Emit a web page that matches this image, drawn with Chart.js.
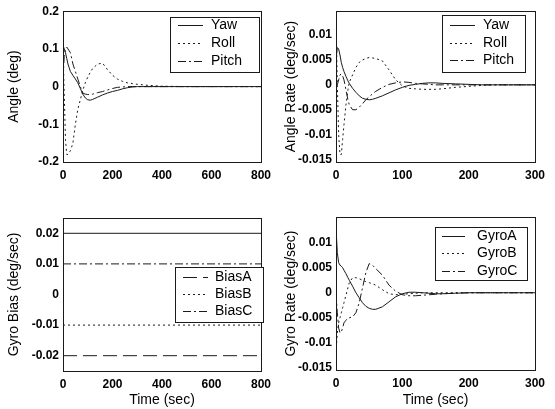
<!DOCTYPE html>
<html><head><meta charset="utf-8">
<script src="https://cdn.jsdelivr.net/npm/chart.js@4/dist/chart.umd.min.js"></script>
<style>
html,body{margin:0;padding:0;background:#fff;}
#wrap{position:relative;width:555px;height:409px;overflow:hidden;background:#fff;}
canvas{position:absolute;}
</style></head><body>
<div id="wrap">
<canvas id="c1" width="277" height="200" style="left:0;top:0"></canvas>
<canvas id="c2" width="278" height="200" style="left:277px;top:0"></canvas>
<canvas id="c3" width="277" height="209" style="left:0;top:200px"></canvas>
<canvas id="c4" width="278" height="209" style="left:277px;top:200px"></canvas>
</div>
<script>
// ---------- DATA ----------
const angleTime  = [0,5,10,15,20,25,30,40,50,60,70,80,90,100,110,120,140,160,180,200,220,240,260,280,300,350,400,500,600,700,800];
const angleYaw   = [0.11,0.1,0.09,0.075,0.06,0.05,0.04,0.03,0.02,0.01,-0.005,-0.02,-0.03,-0.035,-0.036,-0.034,-0.028,-0.022,-0.017,-0.013,-0.01,-0.006,-0.003,-0.001,0,0,0,0,0,0,0];
const angleRoll  = [0.1,-0.02,-0.14,-0.18,-0.18,-0.175,-0.17,-0.15,-0.1,-0.06,-0.035,-0.01,0.01,0.025,0.038,0.048,0.06,0.062,0.045,0.03,0.02,0.014,0.01,0.008,0.006,0.003,0.001,0,0,0,0];
const anglePitch = [0.02,0.08,0.1,0.105,0.1,0.095,0.09,0.06,0.04,0.02,0,-0.017,-0.02,-0.021,-0.021,-0.02,-0.016,-0.013,-0.009,-0.005,-0.002,-0.001,0,0,0,0,0,0,0,0,0];

const rateTime  = [0,2,4,6,8,10,12,15,18,20,25,30,35,40,45,50,55,60,70,80,90,100,110,120,130,140,150,160,180,200,220,240,260,280,300];
const rateYaw   = [0.005,0.0075,0.0072,0.006,0.0045,0.0035,0.0027,0.0017,0.0008,0.0003,-0.0007,-0.0015,-0.0022,-0.0027,-0.0029,-0.003,-0.0029,-0.0027,-0.0022,-0.0016,-0.001,-0.0005,-0.0001,0.0001,0.0003,0.0004,0.0004,0.0003,0.0002,0.0001,0,0,0,0,0];
const rateRoll  = [0.013,0,-0.01,-0.014,-0.014,-0.011,-0.008,-0.004,-0.001,0.0005,0.002,0.0035,0.0045,0.005,0.0053,0.0055,0.0054,0.0053,0.0048,0.003,0.001,-0.0002,-0.0007,-0.0008,-0.0009,-0.0009,-0.0009,-0.0008,-0.0005,-0.0003,-0.0001,0,0,0,0];
const ratePitch = [0,0,0.001,0.002,0.0022,0.0018,0.001,-0.001,-0.003,-0.004,-0.005,-0.005,-0.0045,-0.0038,-0.003,-0.0024,-0.0018,-0.0013,-0.0005,0.0001,0.0004,0.0006,0.0005,0.0003,0.0002,0.0001,0,0,0,0,0,0,0,0,0];

const biasTime = [0,800];
const biasA    = [-0.02,-0.02];
const biasB    = [-0.01,-0.01];
const biasC    = [0.01,0.01];
const biasRef  = [0.02,0.02];

const gyroTime = rateTime;
const gyroA = [0.013,0.008,0.006,0.0055,0.0053,0.005,0.0045,0.0038,0.003,0.0025,0.0013,0,-0.001,-0.002,-0.0027,-0.0031,-0.0033,-0.0033,-0.0028,-0.0018,-0.0008,-0.0002,0.0001,0.0001,0,-0.0001,-0.0002,-0.0002,-0.0001,0,0,0,0,0,0];
const gyroB = [-0.012,-0.008,-0.006,-0.005,-0.004,-0.003,-0.002,-0.0005,0.001,0.002,0.003,0.003,0.0028,0.0025,0.0022,0.002,0.0018,0.0015,0.0006,-0.0002,-0.0004,-0.0003,-0.0002,-0.0001,0,0,0,0,0,0,0,0,0,0,0];
const gyroC = [0,-0.004,-0.007,-0.008,-0.0078,-0.007,-0.006,-0.0055,-0.005,-0.005,-0.0048,-0.004,-0.002,0.001,0.004,0.0058,0.0055,0.0048,0.0035,0.0015,0.0003,-0.0004,-0.0006,-0.0006,-0.0005,-0.0004,-0.0003,-0.0002,-0.0001,0,0,0,0,0,0];

const angleTicks = [-0.2,-0.1,0,0.1,0.2];
const rateTicks  = [-0.015,-0.01,-0.005,0,0.005,0.01];
const biasTicks  = [-0.02,-0.01,0,0.01,0.02];
const longTicks  = [0,200,400,600,800];
const shortTicks = [0,100,200,300];

// ---------- STYLE / HELPERS ----------
const INK = '#1a1a1a';
const SOLID = [], DOT = [2,3], DASHDOT = [8,3,2,3], LONGDASH = [14,6];
const pts = (xs, ys) => xs.map((x,i)=>({x:x, y:ys[i]}));
const ds = (label, xs, ys, dash) => ({label, data: pts(xs, ys), borderColor: INK, borderWidth: 1, borderDash: dash, pointRadius: 0, tension: 0, fill: false});

const framePlugin = {
  id: 'frame',
  afterDatasetsDraw(chart){
    const a = chart.chartArea, ctx = chart.ctx;
    ctx.save(); ctx.setLineDash([]); ctx.strokeStyle = INK; ctx.lineWidth = 1;
    ctx.strokeRect(Math.round(a.left)+0.5, Math.round(a.top)+0.5, Math.round(a.right-a.left), Math.round(a.bottom-a.top));
    ctx.restore();
  }
};
const boxLegend = {
  id: 'boxLegend',
  afterDatasetsDraw(chart, args, o){
    if (!o || o.x === undefined) return;
    const ctx = chart.ctx; ctx.save();
    ctx.fillStyle = '#fff'; ctx.fillRect(o.x, o.y, o.w, o.h);
    ctx.setLineDash([]); ctx.strokeStyle = INK; ctx.lineWidth = 1;
    ctx.strokeRect(o.x+0.5, o.y+0.5, o.w, o.h);
    chart.data.datasets.filter(d=>d.label).forEach((d,i)=>{
      const yy = o.rows[i];
      ctx.setLineDash(d.borderDash||[]); ctx.strokeStyle = INK;
      ctx.beginPath(); ctx.moveTo(o.lx0, yy+0.5); ctx.lineTo(o.lx1, yy+0.5); ctx.stroke();
      ctx.setLineDash([]); ctx.fillStyle = '#000';
      ctx.font = '14px "Liberation Sans", Arial, sans-serif'; ctx.textBaseline = 'middle'; ctx.textAlign = 'left';
      ctx.fillText(d.label, o.tx, yy);
    });
    ctx.restore();
  }
};
Chart.register(framePlugin, boxLegend);

const tickFont = {family: '"Liberation Sans", Arial, sans-serif', size: 12, weight: 'bold'};
const titleFont = {family: '"Liberation Sans", Arial, sans-serif', size: 14};

function makeChart(id, datasets, cfg){
  return new Chart(document.getElementById(id), {
    type: 'line',
    data: {datasets},
    options: {
      responsive: false, animation: false, devicePixelRatio: 1,
      layout: {padding: {top: cfg.padTop, right: cfg.padRight, left: 0, bottom: 0}},
      plugins: {legend: {display: false}, tooltip: {enabled: false}, boxLegend: cfg.legend},
      scales: {
        x: {
          type: 'linear', min: cfg.xMin, max: cfg.xMax,
          afterBuildTicks: s => { s.ticks = cfg.xTicks.map(v=>({value:v})); },
          afterFit: s => { s.height = cfg.xH; },
          grid: {display: false, drawTicks: false},
          border: {display: false},
          ticks: {font: tickFont, color: '#000', padding: 6, maxRotation: 0, callback: v => String(v)},
          title: {display: !!cfg.xTitle, text: cfg.xTitle || '', font: titleFont, color: '#000', padding: {top: 2, bottom: 0}}
        },
        y: {
          type: 'linear', min: cfg.yMin, max: cfg.yMax,
          afterBuildTicks: s => { s.ticks = cfg.yTicks.map(v=>({value:v})); },
          afterFit: s => { s.width = cfg.yW; },
          grid: {display: false, drawTicks: false},
          border: {display: false},
          ticks: {font: tickFont, color: '#000', padding: 4, callback: v => String(v)},
          title: {display: true, text: cfg.yTitle, font: titleFont, color: '#000', padding: {top: 6, bottom: 0}}
        }
      }
    }
  });
}

makeChart('c1', [
  ds('Yaw', angleTime, angleYaw, SOLID),
  ds('Roll', angleTime, angleRoll, DOT),
  ds('Pitch', angleTime, anglePitch, DASHDOT)
], {padTop: 9, padRight: 16, xH: 38, yW: 63, xMin: 0, xMax: 800, xTicks: longTicks, yMin: -0.2, yMax: 0.2, yTicks: angleTicks,
    yTitle: 'Angle (deg)',
    legend: {x: 170, y: 17, w: 89, h: 55, rows: [25,43,61], lx0: 178, lx1: 203, tx: 211}});

makeChart('c2', [
  ds('Yaw', rateTime, rateYaw, SOLID),
  ds('Roll', rateTime, rateRoll, DOT),
  ds('Pitch', rateTime, ratePitch, DASHDOT)
], {padTop: 9, padRight: 20, xH: 38, yW: 59, xMin: 0, xMax: 300, xTicks: shortTicks, yMin: -0.0155, yMax: 0.0148, yTicks: rateTicks,
    yTitle: 'Angle Rate (deg/sec)',
    legend: {x: 165, y: 15, w: 83, h: 57, rows: [25,43,60], lx0: 173, lx1: 198, tx: 206}});

makeChart('c3', [
  ds('BiasA', biasTime, biasA, LONGDASH),
  ds('BiasB', biasTime, biasB, DOT),
  ds('BiasC', biasTime, biasC, DASHDOT),
  ds('', biasTime, biasRef, SOLID)
], {padTop: 18, padRight: 16, xH: 38, yW: 63, xMin: 0, xMax: 800, xTicks: longTicks, yMin: -0.025, yMax: 0.025, yTicks: biasTicks,
    yTitle: 'Gyro Bias (deg/sec)', xTitle: 'Time (sec)',
    legend: {x: 175, y: 67, w: 88, h: 55, rows: [77,94,111], lx0: 183, lx1: 208, tx: 215}});

makeChart('c4', [
  ds('GyroA', gyroTime, gyroA, SOLID),
  ds('GyroB', gyroTime, gyroB, DOT),
  ds('GyroC', gyroTime, gyroC, DASHDOT)
], {padTop: 17, padRight: 20, xH: 39, yW: 59, xMin: 0, xMax: 300, xTicks: shortTicks, yMin: -0.0154, yMax: 0.0151, yTicks: rateTicks,
    yTitle: 'Gyro Rate (deg/sec)', xTitle: 'Time (sec)',
    legend: {x: 158, y: 27, w: 92, h: 53, rows: [36,53,71], lx0: 165, lx1: 188, tx: 200}});
</script>
</body></html>
